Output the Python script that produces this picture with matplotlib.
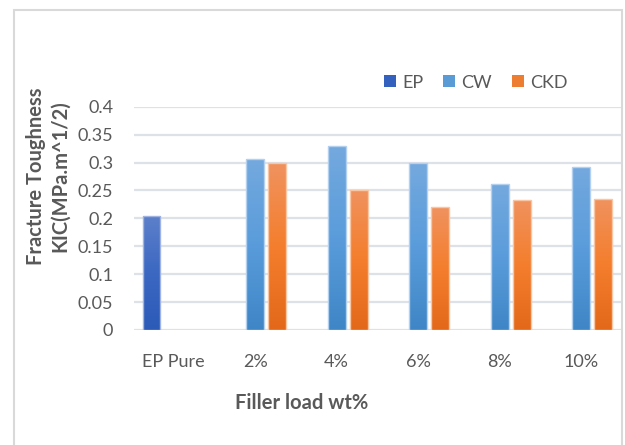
import matplotlib
matplotlib.use('Agg')
import matplotlib.pyplot as plt
import numpy as np
from matplotlib.colors import LinearSegmentedColormap
from matplotlib.patches import Rectangle, Patch

plt.rcParams['font.family'] = ['Lato', 'DejaVu Sans']

categories = ['EP Pure', '2%', '4%', '6%', '8%', '10%']
ep_vals = [0.205, 0, 0, 0, 0, 0]
cw_vals = [0, 0.307, 0.329, 0.299, 0.261, 0.292]
ckd_vals = [0, 0.299, 0.251, 0.220, 0.233, 0.235]
series_names = ['EP', 'CW', 'CKD']
y_ticks = [0, 0.05, 0.1, 0.15, 0.2, 0.25, 0.3, 0.35, 0.4]
y_ticklabels = ['0', '0.05', '0.1', '0.15', '0.2', '0.25', '0.3', '0.35', '0.4']

# gradient stops top -> middle -> bottom, plus legend colour
grads = {
    'EP': ['#5d80ca', '#3c68c2', '#2b5ab7'],
    'CW': ['#74a9de', '#5a9cdb', '#3f86c6'],
    'CKD': ['#f0925f', '#f47e2d', '#e3681a'],
}
legend_colors = {'EP': '#3460be', 'CW': '#5b9bd5', 'CKD': '#ed7d31'}
edge_colors = {'EP': '#9fb4e2', 'CW': '#b3d0ef', 'CKD': '#f8c6a4'}
text_color = '#595959'

fig = plt.figure(figsize=(6.25, 4.45), dpi=100)
ax = fig.add_axes([134 / 625, 1 - 330 / 445, 488 / 625, (330 - 106.7) / 445])

x = np.arange(len(categories))
offset = 0.27
width = 0.22
all_vals = [ep_vals, cw_vals, ckd_vals]

for i, name in enumerate(series_names):
    vals = all_vals[i]
    cmap = LinearSegmentedColormap.from_list(name, grads[name][::-1])
    bars = ax.bar(x + (i - 1) * offset, vals, width=width, color='none',
                  edgecolor=edge_colors[name], linewidth=1.0, zorder=3)
    for b, v in zip(bars, vals):
        if v <= 0:
            b.set_linewidth(0)
            continue
        x0 = b.get_x()
        grad = np.linspace(0, 1, 256).reshape(-1, 1)
        im = ax.imshow(grad, cmap=cmap, origin='lower', aspect='auto',
                       extent=(x0, x0 + b.get_width(), 0, v), zorder=2)
        im.set_clip_path(b)

ax.set_xlim(-0.485, 5.5)
ax.set_ylim(0, 0.4)
ax.set_yticks(y_ticks)
ax.set_yticklabels(y_ticklabels)
ax.set_xticks(x)
ax.set_xticklabels(categories)
ax.grid(axis='y', color='#dde1e8', linewidth=1.6, zorder=0)
ax.set_axisbelow(True)
for s in ax.spines.values():
    s.set_visible(False)
ax.tick_params(axis='both', length=0, labelsize=13, colors=text_color)
ax.tick_params(axis='y', pad=15)
ax.tick_params(axis='x', pad=17)

handles = [Patch(facecolor=legend_colors[n], edgecolor='none', label=n) for n in series_names]
leg = fig.legend(handles=handles, loc='center', bbox_to_anchor=(476 / 625, 1 - 82.7 / 445),
                 ncol=3, frameon=False, fontsize=13, handlelength=0.65, handleheight=0.65,
                 handletextpad=0.35, columnspacing=1.1)
for t in leg.get_texts():
    t.set_color(text_color)

fig.text(48.5 / 625, 1 - 176 / 445, 'Fracture Toughness\nKIC(MPa.m^1/2)', rotation=90,
         ha='center', va='center', fontsize=14.5, fontweight='bold', color=text_color,
         linespacing=1.25, multialignment='center')
fig.text(302 / 625, 1 - 403 / 445, 'Filler load wt%', ha='center', va='center',
         fontsize=14.5, fontweight='bold', color=text_color)

# chart area border
fig.patches.append(Rectangle((14 / 625, -0.1), (622 - 14) / 625, 1.1 - 10 / 445,
                             transform=fig.transFigure, fill=False,
                             edgecolor='#d9d9d9', linewidth=1.5))

fig.savefig('out.png', dpi=100)
